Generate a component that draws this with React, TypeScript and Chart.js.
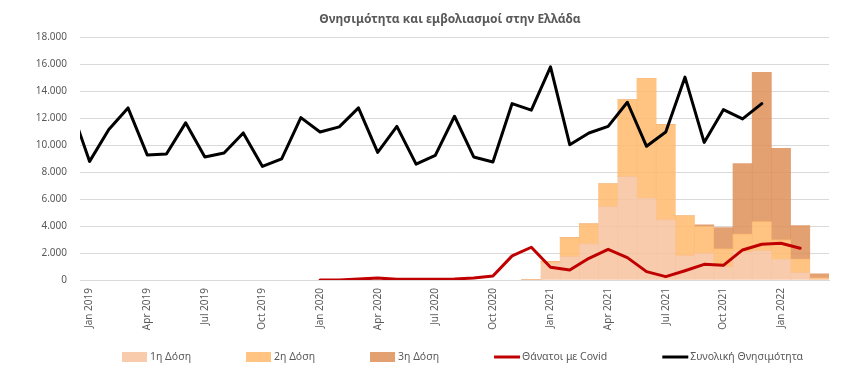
import React, { useEffect, useRef } from 'react';
import { Chart, registerables } from 'chart.js';

Chart.register(...registerables);

const FONT = "'Noto Sans', sans-serif";
const TEXT_COLOR = '#595959';
const GRID_COLOR = '#D9D9D9';

const TITLE = 'Θνησιμότητα και εμβολιασμοί στην Ελλάδα';

// Monthly categories (Dec 2018 only carries the clipped start of the total-mortality line)
const months = [
  'Dec 2018',
  'Jan 2019', 'Feb 2019', 'Mar 2019', 'Apr 2019', 'May 2019', 'Jun 2019',
  'Jul 2019', 'Aug 2019', 'Sep 2019', 'Oct 2019', 'Nov 2019', 'Dec 2019',
  'Jan 2020', 'Feb 2020', 'Mar 2020', 'Apr 2020', 'May 2020', 'Jun 2020',
  'Jul 2020', 'Aug 2020', 'Sep 2020', 'Oct 2020', 'Nov 2020', 'Dec 2020',
  'Jan 2021', 'Feb 2021', 'Mar 2021', 'Apr 2021', 'May 2021', 'Jun 2021',
  'Jul 2021', 'Aug 2021', 'Sep 2021', 'Oct 2021', 'Nov 2021', 'Dec 2021',
  'Jan 2022', 'Feb 2022', 'Mar 2022',
];

const shownTickMonths = ['Jan', 'Apr', 'Jul', 'Oct'];

const dose1 = [
  null,
  null, null, null, null, null, null, null, null, null, null, null, null,
  null, null, null, null, null, null, null, null, null, null, null, 50,
  1240, 1730, 2680, 5440, 7670, 6080, 4460, 1810, 1980, 990, 2100, 2180,
  1540, 550, 80,
];

const dose2 = [
  null,
  null, null, null, null, null, null, null, null, null, null, null, null,
  null, null, null, null, null, null, null, null, null, null, null, 0,
  120, 1420, 1490, 1700, 5720, 8870, 7070, 2960, 1990, 1320, 1300, 2150,
  1440, 1010, 90,
];

const dose3 = [
  null,
  null, null, null, null, null, null, null, null, null, null, null, null,
  null, null, null, null, null, null, null, null, null, null, null, 0,
  0, 0, 0, 0, 0, 0, 0, 0, 120, 1580, 5230, 11080,
  6790, 2470, 280,
];

const covidDeaths = [
  null,
  null, null, null, null, null, null, null, null, null, null, null, null,
  0, 0, 70, 140, 50, 50, 60, 70, 150, 300, 1790, 2430,
  940, 740, 1610, 2280, 1660, 620, 250, 690, 1160, 1090, 2230, 2650,
  2730, 2360, null,
];

const totalDeaths = [
  12900,
  8800, 11160, 12770, 9280, 9350, 11660, 9130, 9420, 10910, 8430, 8980, 12050,
  10980, 11360, 12770, 9470, 11400, 8600, 9250, 12150, 9130, 8750, 13090, 12600,
  15820, 10040, 10910, 11400, 13190, 9920, 10980, 15050, 10210, 12640, 11950, 13090,
  null, null, null,
];

const yTicksMax = 18000;
const yTicksStep = 2000;

const fmt = (v: number) => String(v).replace(/\B(?=(\d{3})+(?!\d))/g, '.');

const customLegend = {
  id: 'customLegend',
  afterLayout(chart: any) {
    // widen the title block so it centres like the original
    if (chart.titleBlock) {
      chart.titleBlock.left = 36;
      chart.titleBlock.right = 864;
    }
  },
  afterDraw(chart: any) {
    const ctx = chart.ctx;
    ctx.save();
    ctx.font = `10.5px ${FONT}`;
    ctx.textBaseline = 'middle';
    ctx.textAlign = 'left';
    let x = 122;
    const y = 357;
    chart.data.datasets.forEach((ds: any) => {
      if (ds.type === 'line') {
        ctx.strokeStyle = ds.borderColor;
        ctx.lineWidth = 3;
        ctx.beginPath();
        ctx.moveTo(x, y);
        ctx.lineTo(x + 26, y);
        ctx.stroke();
      } else {
        ctx.fillStyle = ds.backgroundColor;
        ctx.fillRect(x, y - 5, 25, 10);
      }
      ctx.fillStyle = TEXT_COLOR;
      ctx.fillText(ds.label, x + 28, y);
      x += 28 + ctx.measureText(ds.label).width + 55;
    });
    ctx.restore();
  },
};

export default function App() {
  const ref = useRef<HTMLCanvasElement>(null);

  useEffect(() => {
    document.body.style.margin = '0';
    const chart = new Chart(ref.current as HTMLCanvasElement, {
      type: 'bar',
      data: {
        labels: months,
        datasets: [
          {
            type: 'bar',
            label: '1η Δόση',
            data: dose1,
            backgroundColor: 'rgba(247,194,159,0.85)',
            borderWidth: 0,
            stack: 'vac',
            barPercentage: 1,
            categoryPercentage: 1,
            order: 2,
          },
          {
            type: 'bar',
            label: '2η Δόση',
            data: dose2,
            backgroundColor: 'rgba(255,184,108,0.85)',
            borderWidth: 0,
            stack: 'vac',
            barPercentage: 1,
            categoryPercentage: 1,
            order: 2,
          },
          {
            type: 'bar',
            label: '3η Δόση',
            data: dose3,
            backgroundColor: 'rgba(222,143,87,0.85)',
            borderWidth: 0,
            stack: 'vac',
            barPercentage: 1,
            categoryPercentage: 1,
            order: 2,
          },
          {
            type: 'line',
            label: 'Θάνατοι με Covid',
            data: covidDeaths,
            borderColor: '#C00000',
            backgroundColor: '#C00000',
            borderWidth: 3,
            pointRadius: 0,
            tension: 0,
            borderJoinStyle: 'round',
            borderCapStyle: 'round',
            order: 1,
          },
          {
            type: 'line',
            label: 'Συνολική Θνησιμότητα',
            data: totalDeaths,
            borderColor: '#000000',
            backgroundColor: '#000000',
            borderWidth: 3,
            pointRadius: 0,
            tension: 0,
            borderJoinStyle: 'round',
            borderCapStyle: 'round',
            order: 0,
          },
        ] as any,
      },
      options: {
        animation: false,
        responsive: true,
        maintainAspectRatio: false,
        layout: { padding: { top: 0, right: 35, bottom: 46, left: 0 } },
        plugins: {
          legend: { display: false },
          tooltip: { enabled: false },
          title: {
            display: true,
            text: TITLE,
            color: TEXT_COLOR,
            font: { family: FONT, size: 12, weight: 'bold' },
            padding: { top: 12, bottom: 11 },
          },
        },
        scales: {
          x: {
            type: 'category',
            min: 'Jan 2019',
            offset: true,
            grid: { display: false, drawTicks: false },
            border: { display: true, color: GRID_COLOR, width: 1 },
            ticks: {
              autoSkip: false,
              minRotation: 90,
              maxRotation: 90,
              padding: 8,
              color: TEXT_COLOR,
              font: { family: FONT, size: 10 },
              callback: function (this: any, value: any) {
                const l = this.getLabelForValue(value);
                return shownTickMonths.includes(l.slice(0, 3)) ? l : '';
              },
            },
            afterFit: (s: any) => {
              s.height = 60;
            },
          },
          y: {
            min: 0,
            max: yTicksMax,
            ticks: {
              stepSize: yTicksStep,
              padding: 13,
              color: TEXT_COLOR,
              font: { family: FONT, size: 10 },
              callback: (v: any) => fmt(Number(v)),
            },
            grid: { color: GRID_COLOR, drawTicks: false },
            border: { display: false },
            afterFit: (s: any) => {
              s.width = 80;
            },
          },
        },
      } as any,
      plugins: [customLegend],
    });
    return () => chart.destroy();
  }, []);

  return (
    <div style={{ width: 864, height: 386, position: 'relative' }}>
      <canvas ref={ref} />
    </div>
  );
}
